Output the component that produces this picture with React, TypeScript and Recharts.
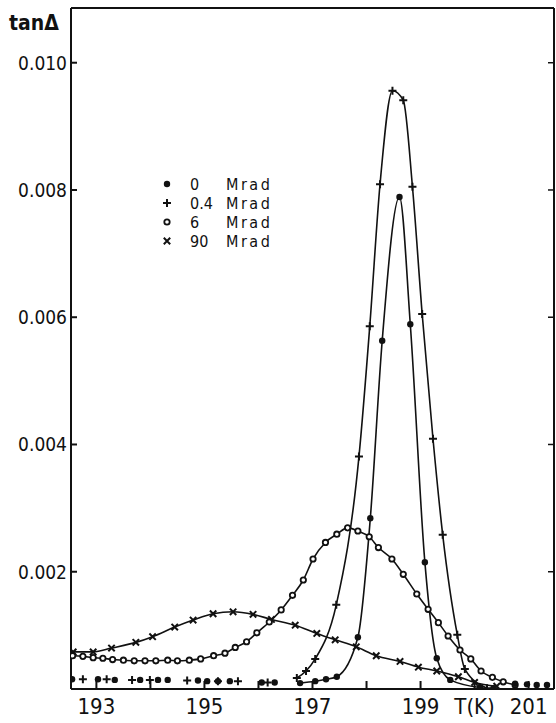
import { ComposedChart, Line, XAxis, YAxis } from "recharts";

// axis ranges and ticks
const T_DOMAIN = [192.53, 201.47];
const V_DOMAIN = [0.000157, 0.01086];
const X_TICKS = [193, 194, 195, 196, 197, 198, 199, 200, 201];
const X_TICK_LABELS: Record<number, string> = {
  193: "193",
  195: "195",
  197: "197",
  199: "199",
  200: "T(K)",
  201: "201",
};
const Y_TICKS = [0.002, 0.004, 0.006, 0.008, 0.01];

// legend
const DOSES = ["0", "0.4", "6", "90"];
const UNIT = "Mrad";

// 0 Mrad (filled dots)
const T0_BASE = [192.55, 193.03, 193.34, 193.81, 194.14, 194.32, 194.88, 195.05, 195.25, 195.47, 196.06, 196.3];
const V0_BASE = [0.00031, 0.00031, 0.0003, 0.0003, 0.0003, 0.0003, 0.00029, 0.00028, 0.00028, 0.00028, 0.00026, 0.00026];
const T0 = [196.77, 197.05, 197.25, 197.45, 197.84, 198.07, 198.29, 198.61, 198.81, 199.08, 199.3, 199.55, 200.1];
const V0 = [0.00025, 0.00028, 0.00031, 0.00035, 0.00097, 0.00284, 0.00563, 0.00789, 0.00589, 0.00215, 0.00064, 0.0003, 0.00018];
const T0_TAIL = [200.35, 200.75, 200.97, 201.15, 201.34];
const V0_TAIL = [0.00017, 0.00024, 0.00023, 0.00022, 0.00022];

// 0.4 Mrad (plus)
const T04_BASE = [192.75, 193.19, 193.66, 193.99, 194.68, 195.25, 195.62, 196.17];
const V04_BASE = [0.00031, 0.00031, 0.0003, 0.0003, 0.00029, 0.00028, 0.00028, 0.00026];
const T04 = [196.71, 196.88, 197.05, 197.44, 197.86, 198.06, 198.25, 198.48, 198.68, 198.85, 199.03, 199.23, 199.41, 199.68, 199.82, 200.23];
const V04 = [0.00033, 0.00044, 0.00063, 0.00148, 0.00381, 0.00586, 0.00809, 0.00956, 0.00941, 0.00805, 0.00605, 0.00409, 0.00258, 0.00101, 0.00047, 0.00017];

// 6 Mrad (open circles)
const T6 = [
  192.56, 192.75, 192.94, 193.12, 193.3, 193.5, 193.7, 193.9, 194.1, 194.32, 194.5, 194.72, 194.93, 195.17,
  195.38, 195.57, 195.78, 195.97, 196.2, 196.42, 196.63, 196.83, 197.01, 197.24, 197.45, 197.65, 197.84,
  198.05, 198.22, 198.47, 198.68, 198.93, 199.14, 199.33, 199.51, 199.73, 199.93, 200.12, 200.33, 200.53, 200.75,
];
const V6 = [
  0.00068, 0.00067, 0.00065, 0.00064, 0.00062, 0.00061, 0.0006, 0.0006, 0.0006, 0.00061, 0.0006, 0.00061, 0.00063, 0.00068,
  0.00072, 0.00081, 0.0009, 0.00104, 0.00121, 0.0014, 0.00163, 0.00187, 0.0022, 0.00246, 0.00259, 0.00269, 0.00264,
  0.00255, 0.00238, 0.0022, 0.00196, 0.00165, 0.00141, 0.0012, 0.00099, 0.00077, 0.00063, 0.00044, 0.00034, 0.00027, 0.00022,
];

// 90 Mrad (crosses)
const T90 = [
  192.57, 192.94, 193.28, 193.73, 194.04, 194.45, 194.79, 195.16, 195.53, 195.9, 196.24, 196.68, 197.08,
  197.42, 197.81, 198.18, 198.62, 198.96, 199.3, 199.7, 200.0, 200.41,
];
const V90 = [
  0.00074, 0.00074, 0.0008, 0.00089, 0.00098, 0.00113, 0.00124, 0.00134, 0.00137, 0.00133, 0.00125, 0.00116, 0.00103,
  0.00093, 0.00082, 0.00068, 0.00059, 0.0005, 0.00044, 0.00035, 0.00026, 0.0002,
];

const pts = (t: number[], v: number[]) => t.map((x, i) => ({ t: x, v: v[i] }));

const FONT = "'Liberation Sans Narrow', 'DejaVu Sans Condensed', sans-serif";
const INK = "#111";

type Kind = "dot" | "plus" | "ring" | "cross";

function Marker({ kind, cx, cy }: { kind: Kind; cx: number; cy: number }) {
  if (kind === "dot") return <circle cx={cx} cy={cy} r={3.2} fill={INK} />;
  if (kind === "plus")
    return (
      <path
        d={`M${cx - 4},${cy}H${cx + 4}M${cx},${cy - 4}V${cy + 4}`}
        stroke={INK}
        strokeWidth={2}
      />
    );
  if (kind === "ring")
    return <circle cx={cx} cy={cy} r={2.7} fill="#fff" stroke={INK} strokeWidth={1.8} />;
  return (
    <path
      d={`M${cx - 3.2},${cy - 3.2}L${cx + 3.2},${cy + 3.2}M${cx - 3.2},${cy + 3.2}L${cx + 3.2},${cy - 3.2}`}
      stroke={INK}
      strokeWidth={2}
    />
  );
}

const dotFor = (kind: Kind, id: string) => (p: any) => (
  <g key={`${id}-${p.index}`}>
    <Marker kind={kind} cx={p.cx} cy={p.cy} />
  </g>
);

// y tick label, kept just left of the axis line
function YTick(props: any) {
  const { y, payload } = props;
  return (
    <text
      x={67}
      y={y}
      dy="0.36em"
      textAnchor="end"
      fontSize={19}
      fill={INK}
      fontFamily={FONT}
    >
      {Number(payload.value).toFixed(3)}
    </text>
  );
}

const LEGEND_KINDS: Kind[] = ["dot", "plus", "ring", "cross"];
const LEGEND_Y = [184, 203, 222, 241];

export default function App() {
  const series: { id: string; kind: Kind; data: { t: number; v: number }[]; line: boolean }[] = [
    { id: "90", kind: "cross", data: pts(T90, V90), line: true },
    { id: "6", kind: "ring", data: pts(T6, V6), line: true },
    { id: "04b", kind: "plus", data: pts(T04_BASE, V04_BASE), line: false },
    { id: "04", kind: "plus", data: pts(T04, V04), line: true },
    { id: "0b", kind: "dot", data: pts(T0_BASE, V0_BASE), line: false },
    { id: "0", kind: "dot", data: pts(T0, V0), line: true },
    { id: "0t", kind: "dot", data: pts(T0_TAIL, V0_TAIL), line: false },
  ];

  return (
    <div
      style={{
        position: "absolute",
        left: 0,
        top: 0,
        width: 556,
        height: 723,
        background: "#fff",
        fontFamily: FONT,
      }}
    >
      <ComposedChart
        width={556}
        height={723}
        margin={{ top: 7, right: 1, bottom: 4, left: 11 }}
      >
        <XAxis
          dataKey="t"
          type="number"
          domain={T_DOMAIN}
          ticks={X_TICKS}
          allowDataOverflow
          height={30}
          tickSize={-8}
          tickMargin={17}
          interval={0}
          tickFormatter={(v: number) => X_TICK_LABELS[v] ?? ""}
          tick={{ fill: INK, fontSize: 22, fontFamily: FONT }}
          axisLine={{ stroke: INK, strokeWidth: 2 }}
          tickLine={{ stroke: INK, strokeWidth: 2 }}
        />
        <XAxis
          xAxisId="top"
          orientation="top"
          type="number"
          domain={T_DOMAIN}
          ticks={X_TICKS}
          allowDataOverflow
          height={1}
          tickSize={-6}
          interval={0}
          tickFormatter={() => ""}
          axisLine={{ stroke: INK, strokeWidth: 2 }}
          tickLine={{ stroke: INK, strokeWidth: 1.5 }}
        />
        <YAxis
          dataKey="v"
          type="number"
          domain={V_DOMAIN}
          ticks={Y_TICKS}
          allowDataOverflow
          width={60}
          tickSize={-6}
          interval={0}
          tick={<YTick />}
          axisLine={{ stroke: INK, strokeWidth: 2 }}
          tickLine={{ stroke: INK, strokeWidth: 2 }}
        />
        <YAxis
          yAxisId="right"
          orientation="right"
          type="number"
          domain={V_DOMAIN}
          ticks={Y_TICKS}
          allowDataOverflow
          width={1}
          tickSize={-6}
          interval={0}
          tickFormatter={() => ""}
          axisLine={{ stroke: INK, strokeWidth: 2 }}
          tickLine={{ stroke: INK, strokeWidth: 1.5 }}
        />
        {series.map((s) => (
          <Line
            key={s.id}
            data={s.data}
            dataKey="v"
            type="monotone"
            stroke={s.line ? INK : "none"}
            strokeWidth={s.line ? 1.6 : 0}
            dot={dotFor(s.kind, s.id)}
            activeDot={false}
            isAnimationActive={false}
            legendType="none"
          />
        ))}
      </ComposedChart>

      <svg
        width={556}
        height={723}
        style={{ position: "absolute", left: 0, top: 0, pointerEvents: "none" }}
      >
        <text x={9} y={30} fontSize={21} fontWeight="bold" fill={INK} fontFamily={FONT}>
          tanΔ
        </text>
        {DOSES.map((d, i) => (
          <g key={d}>
            <Marker kind={LEGEND_KINDS[i]} cx={167} cy={LEGEND_Y[i]} />
            <text
              x={190}
              y={LEGEND_Y[i]}
              dy="0.36em"
              fontSize={16}
              fill={INK}
              fontFamily={FONT}
            >
              {d}
            </text>
            <text
              x={226}
              y={LEGEND_Y[i]}
              dy="0.36em"
              fontSize={16}
              letterSpacing={2.5}
              fill={INK}
              fontFamily={FONT}
            >
              {UNIT}
            </text>
          </g>
        ))}
      </svg>
    </div>
  );
}
